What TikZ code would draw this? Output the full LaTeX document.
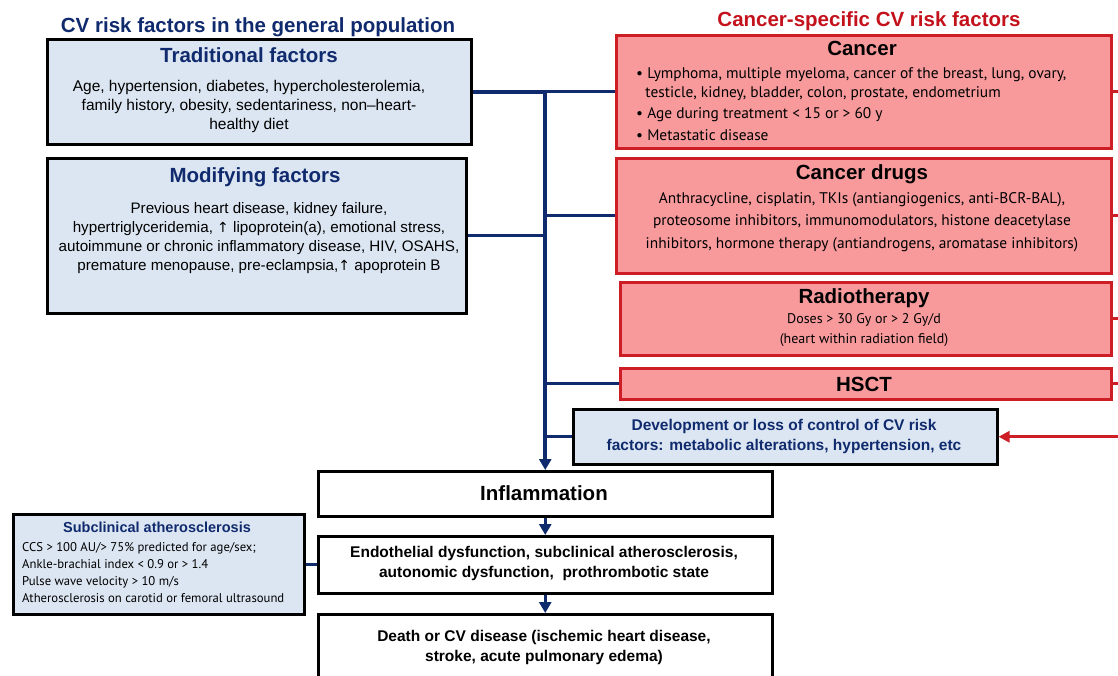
\documentclass[tikz,border=0pt]{standalone}
\usepackage{fontspec}
\setmainfont{Liberation Sans}
\newfontfamily\myr{PT Sans}
\newfontfamily\djvfont{DejaVu Sans}
\usetikzlibrary{arrows.meta}
\definecolor{navy}{RGB}{16,42,110}
\definecolor{redt}{RGB}{196,18,28}
\definecolor{redfill}{RGB}{248,154,156}
\definecolor{redline}{RGB}{204,30,36}
\definecolor{bluefill}{RGB}{220,230,242}
\newcommand{\uparr}{{\djvfont\fontsize{14}{14}\selectfont ↑}}
\begin{document}
\begin{tikzpicture}[x=1pt,y=-1pt,
 bbox/.style={draw=black, line width=2.5pt, fill=bluefill, anchor=north west, inner sep=0},
 rbox/.style={draw=redline, line width=2.5pt, fill=redfill, anchor=north west, inner sep=0},
 wbox/.style={draw=black, line width=2.5pt, fill=white, anchor=north west, inner sep=0},
 conn/.style={draw=navy, line width=3.2pt},
 arr/.style={conn, -{Triangle[length=11pt,width=12pt]}},
 rconn/.style={draw=redline, line width=2.8pt},
 hd/.style={font=\fontsize{20.5}{24}\selectfont\bfseries, inner sep=0, anchor=base},
 body/.style={font=\fontsize{15.5}{19}\selectfont, align=center, inner sep=0, anchor=base},
 mbody/.style={font=\myr\fontsize{15.4}{22.5}\selectfont, align=center, inner sep=0, anchor=base},
 bbody/.style={font=\fontsize{15.5}{20}\selectfont\bfseries, align=center, inner sep=0, anchor=base},
]
\useasboundingbox (0,0) rectangle (1118,675);
\fill[white] (0,0) rectangle (1118,675);
% titles
\node[hd, text=navy] (ltitle) at (258,32) {CV risk factors in the general population};
\node[hd, text=redt] (rtitle) at (869,26) {Cancer-specific CV risk factors};
% blue boxes
\node[bbox, minimum width=424pt, minimum height=105pt] (trad) at (46,38) {};
\node[hd, text=navy] (tradT) at (249,62) {Traditional factors};
\node[body] (tradB) at (249,129) {Age, hypertension, diabetes, hypercholesterolemia,\\family history, obesity, sedentariness, non–heart-\\healthy diet};
\node[bbox, minimum width=419pt, minimum height=155pt] (mod) at (46,157) {};
\node[hd, text=navy] (modT) at (255,182) {Modifying factors};
\node[body, font=\fontsize{15.2}{19}\selectfont] (modB) at (259,270) {Previous heart disease, kidney failure,\\hypertriglyceridemia, \uparr\ lipoprotein(a), emotional stress,\\autoimmune or chronic inflammatory disease, HIV, OSAHS,\\premature menopause, pre-eclampsia,\uparr\ apoprotein B};
% red boxes
\node[rbox, minimum width=495pt, minimum height=113pt] (cancer) at (615,34) {};
\node[hd] (cancerT) at (862,55) {Cancer};
\node[font=\myr\fontsize{15.4}{19}\selectfont, align=left, inner sep=0, anchor=base west] (cancerB) at (636,140) {• Lymphoma, multiple myeloma, cancer of the breast, lung, ovary,\\\hspace*{0.6em}testicle, kidney, bladder, colon, prostate, endometrium\\[2.5pt]• Age during treatment < 15 or > 60 y\\[2.5pt]• Metastatic disease};
\node[rbox, minimum width=495pt, minimum height=115pt] (drugs) at (615,157) {};
\node[hd] (drugsT) at (862,179) {Cancer drugs};
\node[mbody] (drugsB) at (862,248) {Anthracycline, cisplatin, TKIs (antiangiogenics, anti-BCR-BAL),\\proteosome inhibitors, immunomodulators, histone deacetylase\\inhibitors, hormone therapy (antiandrogens, aromatase inhibitors)};
\node[rbox, minimum width=491pt, minimum height=73pt] (radio) at (619,281) {};
\node[hd] (radioT) at (864,303) {Radiotherapy};
\node[mbody, font=\myr\fontsize{14}{20}\selectfont] (radioB) at (864,343) {Doses > 30 Gy or > 2 Gy/d\\(heart within radiation field)};
\node[rbox, minimum width=491pt, minimum height=31pt] (hsct) at (619,367) {};
\node[hd] (hsctT) at (864,391) {HSCT};
% development box
\node[bbox, minimum width=424pt, minimum height=55pt] (dev) at (572,408) {};
\node[draw=none, fill=none, inner sep=0, anchor=base, text=navy, font=\fontsize{15.5}{20}\selectfont\bfseries, align=center] (devT) at (784,450) {Development or loss of control of CV risk\\factors: metabolic alterations, hypertension, etc};
% flow boxes
\node[wbox, minimum width=454pt, minimum height=45pt] (infl) at (317,470) {};
\node[hd] (inflT) at (544,500) {Inflammation};
\node[wbox, minimum width=454pt, minimum height=57pt] (endo) at (317,535) {};
\node[bbody] (endoT) at (544,577) {Endothelial dysfunction, subclinical atherosclerosis,\\autonomic dysfunction,\ \ prothrombotic state};
\node[wbox, minimum width=454pt, minimum height=80pt] (death) at (317,613) {};
\node[bbody] (deathT) at (544,661) {Death or CV disease (ischemic heart disease,\\stroke, acute pulmonary edema)};
% subclinical
\node[bbox, minimum width=291pt, minimum height=100pt] (sub) at (12,513) {};
\node[font=\fontsize{14.5}{18}\selectfont\bfseries, text=navy, inner sep=0, anchor=base] (subT) at (157,532) {Subclinical atherosclerosis};
\node[font=\myr\fontsize{12.7}{16.7}\selectfont, align=left, inner sep=0, anchor=base west] (subB) at (22,602) {CCS > 100 AU/> 75\% predicted for age/sex;\\Ankle-brachial index < 0.9 or > 1.4\\Pulse wave velocity > 10 m/s\\Atherosclerosis on carotid or femoral ultrasound};
% navy connectors
\draw[arr, line width=3.8pt] (trad.east) -| (infl.north);
\draw[conn] (cancer.west) -- (cancer.west -| infl.north);
\draw[conn] (mod.east) -- (mod.east -| infl.north);
\draw[conn] (drugs.west) -- (drugs.west -| infl.north);
\draw[conn] (hsct.west) -- (hsct.west -| infl.north);
\draw[conn] (dev.west) -- (dev.west -| infl.north);
\draw[arr] (infl.south) -- (endo.north);
\draw[arr] (endo.south) -- (death.north);
\draw[conn] (sub.east) -- (sub.east -| endo.west);
% red connectors
\coordinate (redx) at (1118,0);
\draw[rconn] (cancer.east) -- (cancer.east -| redx);
\draw[rconn] (drugs.east) -- (drugs.east -| redx);
\draw[rconn] (radio.east) -- (radio.east -| redx);
\draw[rconn] (hsct.east) -- (hsct.east -| redx);
\coordinate (redin) at (dev.east -| redx);
\draw[rconn, -{Triangle[length=11pt,width=11pt]}] (redin) -- (dev.east);
\end{tikzpicture}
\end{document}
